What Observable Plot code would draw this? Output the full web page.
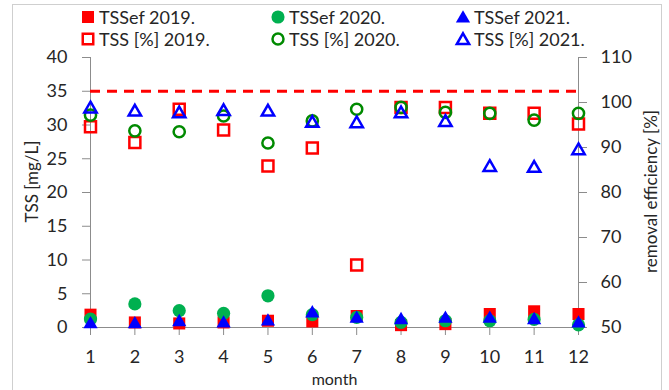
<!DOCTYPE html>
<html>
<head>
<meta charset="utf-8">
<script src="https://cdn.jsdelivr.net/npm/d3@7"></script>
<script src="https://cdn.jsdelivr.net/npm/@observablehq/plot@0.6"></script>
<style>
  html, body { margin: 0; padding: 0; background: #fff; }
  #wrap { position: relative; width: 669px; height: 390px; overflow: hidden; font-family: Lato, "Open Sans", sans-serif; }
  #frame { position: absolute; left: 12px; top: 4px; width: 648px; height: 400px; border: 1px solid #cfcfcf; pointer-events: none; z-index: 3; }
  #legend { position: relative; height: 30px; z-index: 2; }
  .item { position: absolute; display: flex; align-items: center; font-size: 18px; color: #262626; white-space: nowrap; line-height: 20px; }
  .item svg { display: block; margin-right: 3px; overflow: visible; }
  #chart svg { display: block; }
</style>
</head>
<body>
<div id="wrap">
  <div id="legend"></div>
  <div id="chart"></div>
  <div id="frame"></div>
</div>
<script>
// ---- data ----
const months = [1, 2, 3, 4, 5, 6, 7, 8, 9, 10, 11, 12];
// effluent TSS [mg/L] (left axis)
const tssef2019 = [1.9, 0.75, 0.6, 0.75, 1.0, 0.9, 1.7, 0.35, 0.5, 2.0, 2.4, 2.0];
const tssef2020 = [1.25, 3.5, 2.5, 2.1, 4.7, 1.9, 1.5, 0.75, 1.0, 1.0, 1.2, 0.4];
const tssef2021 = [0.5, 0.5, 0.8, 0.6, 0.9, 2.1, 1.3, 1.1, 1.3, 1.3, 1.1, 0.6];
// removal efficiency [%] (right axis)
const tss2019 = [94.6, 91.1, 98.5, 93.9, 85.9, 89.9, 63.9, 98.9, 98.9, 97.6, 97.6, 95.2];
const tss2020 = [97.2, 93.7, 93.5, 97.0, 91.0, 95.9, 98.5, 98.9, 97.8, 97.6, 96.1, 97.6];
const tss2021 = [98.6, 97.9, 97.5, 98.0, 97.9, 95.4, 95.3, 97.5, 95.6, 85.6, 85.4, 89.3];
const limit = 35; // mg/L
const leftTicks = [0, 5, 10, 15, 20, 25, 30, 35, 40];
const rightTicks = [50, 60, 70, 80, 90, 100, 110];
const seriesNames = ["TSSef 2019.", "TSSef 2020.", "TSSef 2021.", "TSS [%] 2019.", "TSS [%] 2020.", "TSS [%] 2021."];
const xLabel = "month";
const yLabel = "TSS [mg/L]";
const y2Label = "removal efficiency [%]";

// ---- styles ----
const RED = "#ff0000", GREEN = "#00b050", DKGREEN = "#008a00", BLUE = "#0000ff";
const AXIS = "#8c8c8c", TEXT = "#262626";

// map right-axis percent (50..110) onto the left scale (0..40)
const toLeft = p => (p - 50) * 40 / 60;
const fromLeft = v => v * 60 / 40 + 50;

// ---- legend ----
const legendStyles = [
  {symbol: d3.symbolSquare, size: 144, fill: RED},
  {symbol: d3.symbolCircle, size: 135, fill: GREEN},
  {symbol: d3.symbolTriangle, size: 88, fill: BLUE},
  {symbol: d3.symbolSquare, size: 110, stroke: RED},
  {symbol: d3.symbolCircle, size: 95, stroke: DKGREEN},
  {symbol: d3.symbolTriangle, size: 66, stroke: BLUE}
];
const colX = [80, 270, 455];
const rowY = [17, 39];
const legend = d3.select("#legend");
seriesNames.forEach((name, i) => {
  const s = legendStyles[i];
  const item = legend.append("div").attr("class", "item")
    .style("left", colX[i % 3] + "px")
    .style("top", (rowY[Math.floor(i / 3)] - 10) + "px");
  const svg = item.append("svg").attr("width", 16).attr("height", 16);
  const dy = s.symbol === d3.symbolTriangle ? 9.5 : 8;
  svg.append("path")
    .attr("transform", `translate(8,${dy})`)
    .attr("d", d3.symbol(s.symbol, s.size)())
    .attr("fill", s.fill || "none")
    .attr("stroke", s.stroke || "none")
    .attr("stroke-width", s.stroke ? 2.5 : 0);
  item.append("span").text(name);
});

// ---- chart ----
const chart = Plot.plot({
  width: 669,
  height: 360,
  marginTop: 27,
  marginBottom: 63,
  marginLeft: 90,
  marginRight: 91,
  style: {fontFamily: "Lato, 'Open Sans', sans-serif", fontSize: "18px", background: "transparent", color: TEXT, overflow: "visible"},
  x: {domain: [1, 12]},
  y: {domain: [0, 40]},
  marks: [
    Plot.ruleY([0], {stroke: AXIS}),
    Plot.ruleX([1], {stroke: AXIS}),
    Plot.ruleX([12], {stroke: AXIS}),
    Plot.axisX(months, {tickSize: 8, tickPadding: 15, stroke: AXIS, fill: TEXT, fontSize: 18, label: null}),
    Plot.axisY(leftTicks, {anchor: "left", tickSize: 8, tickPadding: 15, stroke: AXIS, fill: TEXT, fontSize: 18, label: null}),
    Plot.axisY(rightTicks.map(toLeft), {anchor: "right", tickSize: 8, tickPadding: 14, stroke: AXIS, fill: TEXT, fontSize: 18, label: null,
      tickFormat: d => String(Math.round(fromLeft(d)))}),
    Plot.text([yLabel], {frameAnchor: "middle", textAnchor: "middle", lineAnchor: "middle", rotate: -90, dx: -302, dy: -11, fontSize: 17, fill: TEXT}),
    Plot.text([y2Label], {frameAnchor: "middle", textAnchor: "middle", lineAnchor: "middle", rotate: -90, dx: 317, dy: -1, fontSize: 17, fill: TEXT}),
    Plot.text([xLabel], {frameAnchor: "bottom", lineAnchor: "middle", dy: 52, fontSize: 16, fill: TEXT}),
    Plot.ruleY([limit], {stroke: RED, strokeWidth: 3, strokeDasharray: "10,7"}),
    // effluent (filled)
    Plot.dot(months, {x: months, y: tssef2019, symbol: "square", r: 6.8, fill: RED}),
    Plot.dot(months, {x: months, y: tssef2020, symbol: "circle", r: 6.6, fill: GREEN}),
    Plot.dot(months, {x: months, y: tssef2021, symbol: "triangle", r: 5.3, fill: BLUE}),
    // efficiency (open)
    Plot.dot(months, {x: months, y: tss2019.map(toLeft), symbol: "square", r: 6.2, fill: "none", stroke: RED, strokeWidth: 2.5}),
    Plot.dot(months, {x: months, y: tss2020.map(toLeft), symbol: "circle", r: 5.6, fill: "none", stroke: DKGREEN, strokeWidth: 2.5}),
    Plot.dot(months, {x: months, y: tss2021.map(toLeft), symbol: "triangle", r: 4.6, fill: "none", stroke: BLUE, strokeWidth: 2.5})
  ]
});
document.getElementById("chart").appendChild(chart);
</script>
</body>
</html>
